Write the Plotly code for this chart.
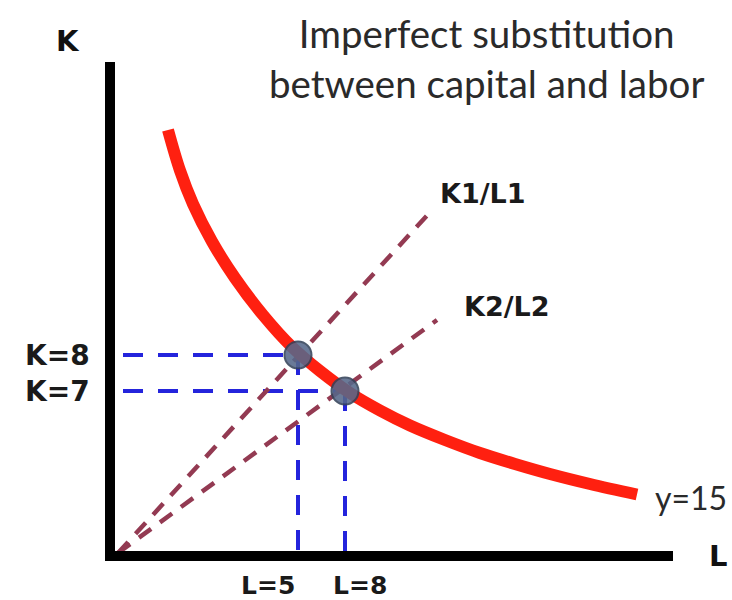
import plotly.graph_objects as go

# ---- data (diagram units) ----
curve_L = [1.16, 1.40, 1.66, 2.04, 2.50, 3.06, 3.64, 4.20, 4.80, 5.40, 6.00, 6.70, 7.40, 8.10, 8.80, 9.60, 10.54]
curve_K = [8.52, 7.71, 7.04, 6.29, 5.56, 4.82, 4.18, 3.70, 3.26, 2.91, 2.61, 2.32, 2.06, 1.84, 1.64, 1.44, 1.23]

point_L = [3.76, 4.70]
point_K = [4.02, 3.30]
point_L_labels = ["L=5", "L=8"]
point_K_labels = ["K=8", "K=7"]

ray1_L = [0.16, 6.44]
ray1_K = [0.06, 6.92]
ray2_L = [0.16, 6.54]
ray2_K = [0.06, 4.72]
ray_labels = ["K1/L1", "K2/L2"]
ray_label_L = [6.56, 7.04]
ray_label_K = [7.26, 5.00]

curve_label = "y=15"
title_text = "Imperfect substitution<br>between capital and labor"

BOLD = "DejaVu Sans"
BLUE = "#2424DC"
MAROON = "#933A52"
RED = "#FF2010"

fig = go.Figure()

# blue dashed guide lines
for lx, ky in zip(point_L, point_K):
    fig.add_trace(go.Scatter(x=[0.26, lx], y=[ky, ky], mode="lines",
                             line=dict(color=BLUE, width=4, dash="20px,15px"),
                             hoverinfo="skip", showlegend=False))
    fig.add_trace(go.Scatter(x=[lx, lx], y=[ky, 0.1], mode="lines",
                             line=dict(color=BLUE, width=4, dash="20px,15px"),
                             hoverinfo="skip", showlegend=False))

# rays
for rx, ry in [(ray1_L, ray1_K), (ray2_L, ray2_K)]:
    fig.add_trace(go.Scatter(x=rx, y=ry, mode="lines",
                             line=dict(color=MAROON, width=4.5, dash="15px,11px"),
                             hoverinfo="skip", showlegend=False))

# isoquant
fig.add_trace(go.Scatter(x=curve_L, y=curve_K, mode="lines",
                         line=dict(color=RED, width=12, shape="spline", smoothing=1.0),
                         showlegend=False))

# points
fig.add_trace(go.Scatter(x=point_L, y=point_K, mode="markers",
                         marker=dict(size=27, color="#56688A", opacity=0.88,
                                     line=dict(color="#34435A", width=2)),
                         showlegend=False))

annotations = [
    dict(text=title_text, xref="paper", yref="paper", x=0.668, y=1.008,
         xanchor="center", yanchor="middle", showarrow=False,
         font=dict(family="Lato", size=38.5, color="#2a2a2a")),
    dict(text="<b>K</b>", xref="paper", yref="paper", x=-0.0746, y=1.0425,
         xanchor="center", yanchor="middle", showarrow=False,
         font=dict(family=BOLD, size=29, color="#111")),
    dict(text="<b>L</b>", xref="paper", yref="paper", x=1.08, y=0.0,
         xanchor="center", yanchor="middle", showarrow=False,
         font=dict(family=BOLD, size=29, color="#111")),
    dict(text=curve_label, xref="paper", yref="y", x=0.9645, y=curve_K[-1],
         xanchor="left", yanchor="middle", yshift=-3, showarrow=False,
         font=dict(family="Lato", size=32, color="#2a2a2a")),
]
for txt, lx, ky in zip(ray_labels, ray_label_L, ray_label_K):
    annotations.append(dict(text=f"<b>{txt}</b>", xref="x", yref="y", x=lx, y=ky,
                            xanchor="left", yanchor="middle", showarrow=False,
                            font=dict(family=BOLD, size=27, color="#1a1a1a")))
for txt, ky in zip(point_K_labels, point_K):
    annotations.append(dict(text=f"<b>{txt}</b>", xref="paper", yref="y", x=-0.032, y=ky,
                            xanchor="right", yanchor="middle", showarrow=False,
                            font=dict(family=BOLD, size=28, color="#1a1a1a")))
for txt, lx, sh in zip(point_L_labels, point_L, [-30, 15]):
    annotations.append(dict(text=f"<b>{txt}</b>", xref="x", yref="paper", x=lx, y=-0.059,
                            xanchor="center", yanchor="middle", xshift=sh, showarrow=False,
                            font=dict(family=BOLD, size=25, color="#1a1a1a")))

fig.update_layout(
    width=732, height=600,
    margin=dict(l=110, r=59, t=62, b=44),
    paper_bgcolor="white", plot_bgcolor="white",
    xaxis=dict(range=[0, 11.26], visible=False, fixedrange=True),
    yaxis=dict(range=[0, 9.88], visible=False, fixedrange=True),
    annotations=annotations,
    shapes=[dict(type="path", xref="paper", yref="paper",
                 path="M 0,1 L 0,0 L 1,0",
                 line=dict(color="black", width=10))],
)

fig.write_html("out.html",
               config={"displayModeBar": False},
               post_script="document.body.style.margin='0';document.body.style.overflow='hidden';")
